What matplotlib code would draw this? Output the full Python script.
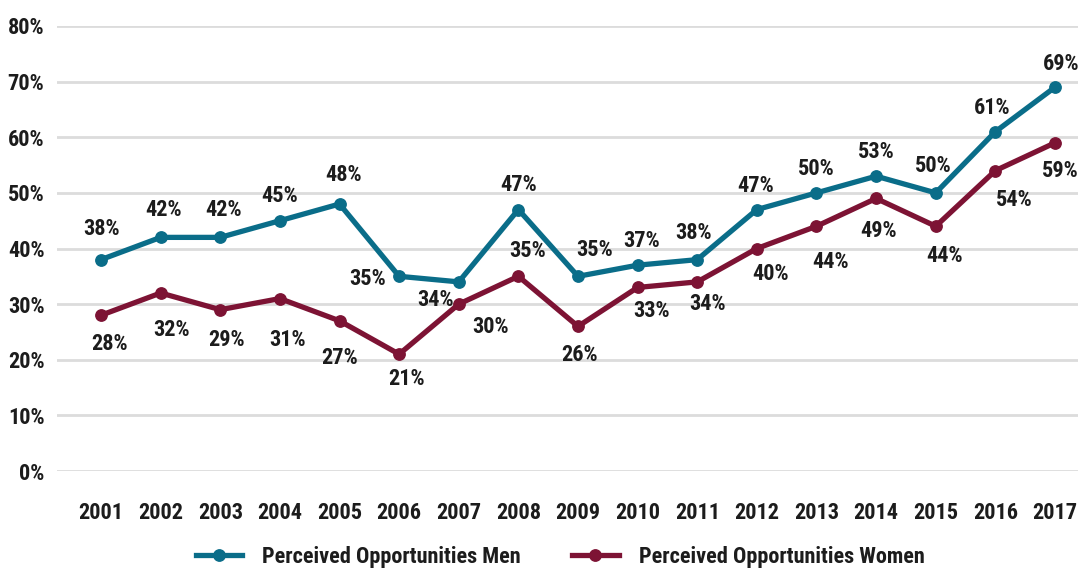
import matplotlib
matplotlib.use("Agg")
import matplotlib.pyplot as plt
from matplotlib.lines import Line2D

plt.rcParams['font.family'] = ['Roboto Condensed', 'Liberation Sans Narrow', 'DejaVu Sans']
plt.rcParams['font.weight'] = 'bold'

years = list(range(2001, 2018))
men = [38, 42, 42, 45, 48, 35, 34, 47, 35, 37, 38, 47, 50, 53, 50, 61, 69]
women = [28, 32, 29, 31, 27, 21, 30, 35, 26, 33, 34, 40, 44, 49, 44, 54, 59]
y_ticks = [0, 10, 20, 30, 40, 50, 60, 70, 80]

men_name = "Perceived Opportunities Men"
women_name = "Perceived Opportunities Women"

# label offsets from each point, in pixels (dx right, dy down)
men_off = [(1, -31), (3, -27), (3, -27), (0, -25), (4, -29), (-32, 3), (-23, 18),
           (0, -25), (17, -26), (4, -24), (-4, -27), (-1, -24), (0, -24), (0, -24),
           (-2, -27), (-3, -24), (6, -23)]
women_off = [(9, 29), (11, 37), (6, 30), (8, 41), (0, 37), (7, 25), (32, 23),
             (9, -25), (2, 29), (14, 24), (10, 22), (14, 25), (14, 36), (2, 33),
             (9, 30), (19, 29), (5, 28)]

TEAL = '#0A6D89'
MAROON = '#7D1334'
INK = '#1c1c1c'
FS = 16

W, H = 1083, 571
fig = plt.figure(figsize=(W / 100, H / 100), dpi=100)
ax = fig.add_axes([57 / W, (H - 471) / H, (1078 - 57) / W, (471 - 26) / H])

ax.set_ylim(0, 80)
ax.set_xlim(2001 - 44 / 59.6, 2017 + 23 / 59.6)
ax.set_yticks(y_ticks)
ax.set_yticklabels([f"{v}%" for v in y_ticks])
ax.set_xticks(years)
ax.set_xticklabels([str(y) for y in years])
ax.tick_params(axis='y', length=0, pad=9.0, labelsize=FS, labelcolor=INK)
ax.tick_params(axis='x', length=0, pad=22, labelsize=FS, labelcolor=INK)
for s in ax.spines.values():
    s.set_visible(False)
ax.yaxis.grid(True, color='#dcdcdc', linewidth=2.0)
ax.set_axisbelow(True)

lw, ms = 3.8, 8.2
ax.plot(years, men, color=TEAL, lw=lw, marker='o', ms=ms, clip_on=False, zorder=3)
ax.plot(years, women, color=MAROON, lw=lw, marker='o', ms=ms, clip_on=False, zorder=3)

for series, offs in ((men, men_off), (women, women_off)):
    for x, v, (dx, dy) in zip(years, series, offs):
        ax.annotate(f"{v}%", (x, v), xytext=(dx, -dy), textcoords='offset pixels',
                    ha='center', va='center', fontsize=FS, color=INK,
                    fontweight='bold', annotation_clip=False)

handles = [Line2D([], [], color=TEAL, lw=lw, marker='o', ms=ms),
           Line2D([], [], color=MAROON, lw=lw, marker='o', ms=ms)]
fig.legend(handles, [men_name, women_name], loc='center',
           bbox_to_anchor=(560 / W, (H - 557) / H), ncol=2, frameon=False,
           fontsize=FS, handlelength=2.1, handletextpad=0.9, columnspacing=2.3,
           labelcolor=INK)

fig.savefig("out.png", dpi=100)
